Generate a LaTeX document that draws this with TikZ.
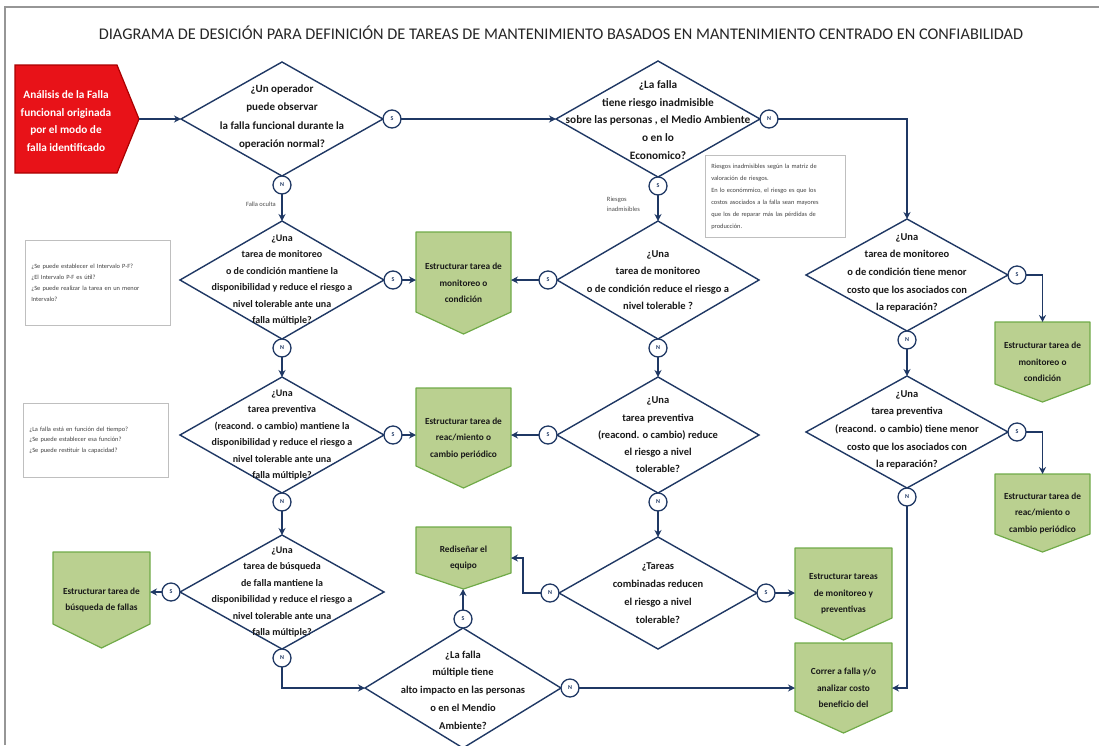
\documentclass[tikz,border=0pt]{standalone}
\usepackage{fontspec}
\setmainfont{Carlito}
\usetikzlibrary{shapes.geometric,arrows.meta,calc}

\definecolor{navy}{RGB}{31,56,100}
\definecolor{leaf}{RGB}{186,208,144}
\definecolor{leafline}{RGB}{112,170,72}
\definecolor{alarm}{RGB}{232,18,24}
\definecolor{alarmline}{RGB}{170,0,0}
\definecolor{framegray}{RGB}{150,150,150}

\newcommand\qfont{\bfseries\fontsize{10}{16.5}\selectfont}
\newcommand\qbig{\bfseries\fontsize{11}{18.5}\selectfont}
\newcommand\notefont{\fontsize{6.4}{10.8}\selectfont}

% outcome box with a pointed bottom: name, left, top, width, side height, tip depth, text
\newcommand\outcome[7]{%
  \draw[outbox] (#2,#3) -- ++(#4,0) -- ++(0,#5) -- ++(-#4/2,#6) -- ++(-#4/2,-#6) -- cycle;
  \node[outtext, minimum width=#4, minimum height=#5+#6] (#1) at ({#2+#4/2},{#3+(#5+#6)/2}) {#7};
}

\begin{document}
\begin{tikzpicture}[x=1pt,y=-1pt,
  dec/.style={diamond, draw=navy, line width=1.4pt, fill=white, inner sep=0pt, outer sep=0pt},
  qtext/.style={align=center, font=\qfont, inner sep=0pt, text=black!90},
  yn/.style={circle, draw=navy, fill=white, line width=1.3pt, minimum size=18pt, inner sep=0pt, outer sep=0pt, font=\bfseries\fontsize{6}{6}\selectfont, text=navy},
  flow/.style={draw=navy, line width=1.8pt, -{Stealth[length=7pt,width=7pt]}},
  outbox/.style={fill=leaf, draw=leafline, line width=1.2pt, line join=round},
  outtext/.style={align=center, inner sep=0pt, outer sep=0pt, font=\bfseries\fontsize{9.3}{16.5}\selectfont, text=black!90},
  note/.style={draw=black!25, line width=0.6pt, align=left, font=\notefont, text=black!75, inner xsep=6pt, inner ysep=0pt, anchor=north west},
  tag/.style={font=\fontsize{6.5}{10}\selectfont, text=black!70, align=left, inner sep=0pt}
]
\useasboundingbox (0,0) rectangle (1099,745);

% page frame
\draw[framegray, line width=2.5pt] (5,745) -- (5,7) -- (1099,7);

% title
\node[font=\fontsize{16.3}{18}\selectfont, text=black!85] (title) at (561,33)
  {DIAGRAMA DE DESICIÓN PARA DEFINICIÓN DE TAREAS DE MANTENIMIENTO BASADOS EN MANTENIMIENTO CENTRADO EN CONFIABILIDAD};

% starting block
\draw[fill=alarm, draw=alarmline, line width=1.2pt] (15,65) -- (117,65) -- (139,119) -- (117,173) -- (15,173) -- cycle;
\node[inner sep=0pt, minimum width=124, minimum height=108] (start) at (77,119) {};
\node[align=center, inner sep=0pt, text=white, font=\bfseries\fontsize{11.3}{17.8}\selectfont] (startt) at (66,121)
  {Análisis de la Falla\\funcional originada\\por el modo de\\falla identificado};

% decision diamonds
\node[dec, minimum width=202, minimum height=114] (d1) at (282,119) {};
\node[dec, minimum width=204, minimum height=116] (d2) at (658,119) {};
\node[dec, minimum width=204, minimum height=118] (l2) at (282,280) {};
\node[dec, minimum width=202, minimum height=118] (m2) at (658,280) {};
\node[dec, minimum width=202, minimum height=112] (r1) at (907,275) {};
\node[dec, minimum width=204, minimum height=116] (l3) at (282,435) {};
\node[dec, minimum width=202, minimum height=116] (m3) at (658,435) {};
\node[dec, minimum width=202, minimum height=112] (r2) at (907,432) {};
\node[dec, minimum width=204, minimum height=114] (l4) at (282,592) {};
\node[dec, minimum width=198, minimum height=112] (m4) at (658,593) {};
\node[dec, minimum width=196, minimum height=120] (b)  at (463,688) {};

% question texts
\node[qtext, font=\qbig] (d1t) at ([yshift=2pt]d1) {¿Un operador\\puede observar\\la falla funcional durante la\\operación normal?};
\node[qtext, font=\bfseries\fontsize{11.3}{17.8}\selectfont] (d2t) at ([yshift=-1pt]d2) {¿La falla\\tiene riesgo inadmisible\\sobre las personas , el Medio Ambiente\\o en lo\\Economico?};
\node[qtext] (l2t) at (l2) {¿Una\\tarea de monitoreo\\o de condición mantiene la\\disponibilidad y reduce el riesgo a\\nivel tolerable ante una\\falla múltiple?};
\node[qtext, font=\bfseries\fontsize{10.5}{17.5}\selectfont] (m2t) at (m2) {¿Una\\tarea de monitoreo\\o de condición reduce el riesgo a\\nivel tolerable ?};
\node[qtext, font=\bfseries\fontsize{10.5}{17.7}\selectfont] (r1t) at ([yshift=2pt]r1) {¿Una\\tarea de monitoreo\\o de condición tiene menor\\costo que los asociados con\\la reparación?};
\node[qtext] (l3t) at (l3) {¿Una\\tarea preventiva\\(reacond. o cambio) mantiene la\\disponibilidad y reduce el riesgo a\\nivel tolerable ante una\\falla múltiple?};
\node[qtext, font=\bfseries\fontsize{10.5}{17.2}\selectfont] (m3t) at (m3) {¿Una\\tarea preventiva\\(reacond. o cambio) reduce\\el riesgo a nivel\\tolerable?};
\node[qtext, font=\bfseries\fontsize{10.5}{17.7}\selectfont] (r2t) at ([yshift=2pt]r2) {¿Una\\tarea preventiva\\(reacond. o cambio) tiene menor\\costo que los asociados con\\la reparación?};
\node[qtext] (l4t) at (l4) {¿Una\\tarea de búsqueda\\de falla mantiene la\\disponibilidad y reduce el riesgo a\\nivel tolerable ante una\\falla múltiple?};
\node[qtext, font=\bfseries\fontsize{10.5}{18}\selectfont] (m4t) at (m4) {¿Tareas\\combinadas reducen\\el riesgo a nivel\\tolerable?};
\node[qtext, font=\bfseries\fontsize{10.5}{17.8}\selectfont] (bt) at ([yshift=-2pt]b) {¿La falla\\múltiple tiene\\alto impacto en las personas\\o en el Mendio\\Ambiente?};

% yes / no markers
\node[yn, anchor=west]  (d1s) at (d1.east)  {S};
\node[yn, anchor=north] (d1n) at (d1.south) {N};
\node[yn, anchor=west]  (d2n) at (d2.east)  {N};
\node[yn, anchor=north] (d2s) at (d2.south) {S};
\node[yn, anchor=west]  (l2s) at (l2.east)  {S};
\node[yn, anchor=north] (l2n) at (l2.south) {N};
\node[yn, anchor=east]  (m2s) at (m2.west)  {S};
\node[yn, anchor=north] (m2n) at (m2.south) {N};
\node[yn, anchor=west]  (r1s) at (r1.east)  {S};
\node[yn, anchor=north] (r1n) at (r1.south) {N};
\node[yn, anchor=west]  (l3s) at (l3.east)  {S};
\node[yn, anchor=north] (l3n) at (l3.south) {N};
\node[yn, anchor=east]  (m3s) at (m3.west)  {S};
\node[yn, anchor=north] (m3n) at (m3.south) {N};
\node[yn, anchor=west]  (r2s) at (r2.east)  {S};
\node[yn, anchor=north] (r2n) at (r2.south) {N};
\node[yn, anchor=east]  (l4s) at (l4.west)  {S};
\node[yn, anchor=north] (l4n) at (l4.south) {N};
\node[yn, anchor=east]  (m4n) at (m4.west)  {N};
\node[yn, anchor=west]  (m4s) at (m4.east)  {S};
\node[yn, anchor=south] (bs)  at (b.north)  {S};
\node[yn, anchor=west]  (bn)  at (b.east)   {N};

% outcome boxes
\outcome{g1}{416}{232}{95}{80}{22}{Estructurar tarea de\\monitoreo o\\condición}
\outcome{g2}{416}{388}{95}{78}{22}{Estructurar tarea de\\reac/miento o\\cambio periódico}
\outcome{g3}{53}{552}{97}{72}{24}{Estructurar tarea de\\búsqueda de fallas}
\outcome{g4}{416}{527}{95}{46}{16}{Rediseñar el\\equipo}
\outcome{g5}{795}{548}{97}{70}{22}{Estructurar tareas\\de monitoreo y\\preventivas}
\outcome{g6}{795}{643}{97}{68}{22}{Correr a falla y/o\\analizar costo\\beneficio del}
\outcome{g7}{995}{322}{95}{62}{18}{Estructurar tarea de\\monitoreo o\\condición}
\outcome{g8}{995}{474}{95}{60}{18}{Estructurar tarea de\\reac/miento o\\cambio periódico}

% side notes
\node[note, text width=133, minimum height=85] (n1) at (25,240) {¿Se puede establecer el Intervalo P-F?\\¿El Intervalo P-F es útil?\\¿Se puede realizar la tarea en un menor\\Intervalo?};
\node[note, text width=133, minimum height=74] (n2) at (23,403) {¿La falla está en función del tiempo?\\¿Se puede establecer esa función?\\¿Se puede restituir la capacidad?};
\node[note, text width=128, minimum height=82, font=\fontsize{6.4}{12}\selectfont] (n3) at (705,155) {Riesgos inadmisibles según la matriz de\\valoración de riesgos.\\En lo económmico, el riesgo es que los\\costos asociados a la falla sean mayores\\que los de reparar más las pérdidas de\\producción.};

% connector tags
\node[tag, anchor=east] (tagf) at (276,204) {Falla oculta};
\node[tag, anchor=east] (tagr) at (640,204) {Riesgos\\inadmisibles};

% connectors
\draw[flow] (start.east) -- (d1.west);
\draw[flow] (d1s.east) -- (d2.west);
\draw[flow] (d1n.south) -- (l2.north);
\draw[flow] (d2s.south) -- (m2.north);
\draw[flow] (d2n.east) -| (r1.north);
\draw[flow] (l2s.east) -- (l2s.east -| g1.west);
\draw[flow] (m2s.west) -- (m2s.west -| g1.east);
\draw[flow] (l2n.south) -- (l3.north);
\draw[flow] (m2n.south) -- (m3.north);
\draw[flow] (r1s.east) -| (g7.north);
\draw[flow] (r1n.south) -- (r2.north);
\draw[flow] (l3s.east) -- (l3s.east -| g2.west);
\draw[flow] (m3s.west) -- (m3s.west -| g2.east);
\draw[flow] (l3n.south) -- (l4.north);
\draw[flow] (m3n.south) -- (m4.north);
\draw[flow] (r2s.east) -| (g8.north);
\draw[flow] (r2n.south) |- (g6.east);
\draw[flow] (l4s.west) -- (l4s.west -| g3.east);
\draw[flow] (l4n.south) |- (b.west);
\draw[flow] (m4n.west) -- ++(-18,0) |- (g4.east);
\draw[flow] (m4s.east) -- (m4s.east -| g5.west);
\draw[flow] (bs.north) -- (bs.north |- g4.south);
\draw[flow] (bn.east) -- (bn.east -| g6.west);
\end{tikzpicture}
\end{document}
